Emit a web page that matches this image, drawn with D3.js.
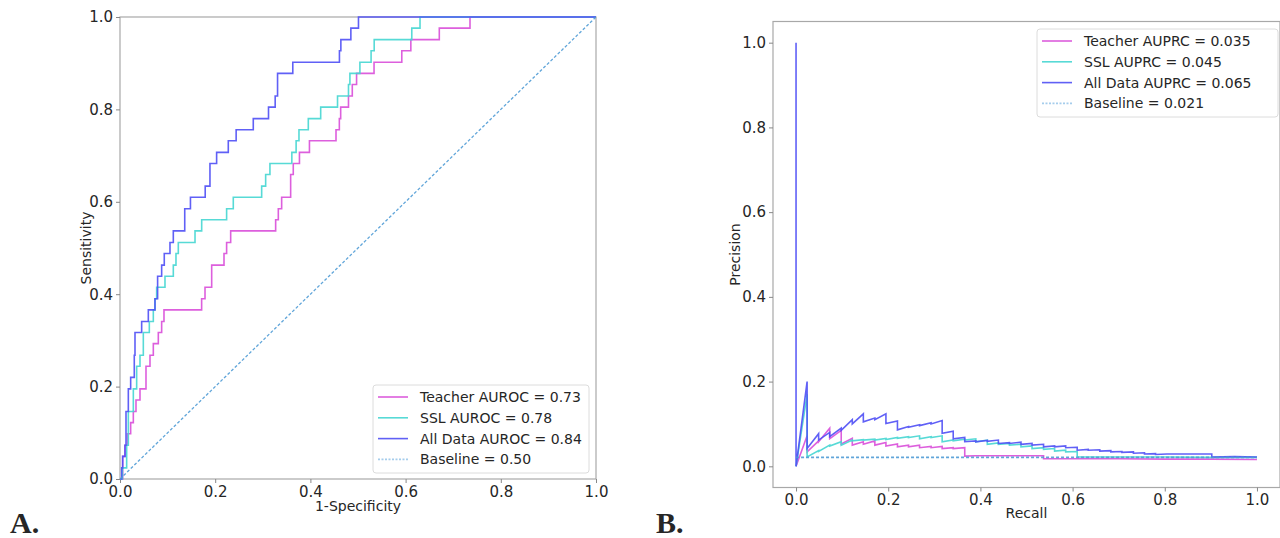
<!DOCTYPE html>
<html>
<head>
<meta charset="utf-8">
<script src="https://cdn.jsdelivr.net/npm/d3@7"></script>
<style>
  body { margin: 0; background: #fff; }
  svg text { font-family: "DejaVu Sans", sans-serif; fill: #262626; }
</style>
</head>
<body>
<svg id="fig" width="1280" height="538"></svg>
<script>
// ---- data ----
// ROC curves: [fpr, tpr] at each step (horizontal then vertical)
const rocTeacher = [[0,0],[0.0056,0.049],[0.0105,0.073],[0.0154,0.098],[0.0224,0.122],[0.028,0.146],[0.0336,0.171],[0.042,0.195],[0.0546,0.244],[0.063,0.268],[0.07,0.293],[0.0805,0.317],[0.0875,0.341],[0.0924,0.366],[0.1715,0.39],[0.1786,0.415],[0.1926,0.463],[0.2185,0.488],[0.224,0.512],[0.2325,0.537],[0.327,0.561],[0.3326,0.585],[0.3396,0.61],[0.3585,0.659],[0.364,0.683],[0.377,0.707],[0.398,0.732],[0.4538,0.756],[0.4608,0.78],[0.4636,0.805],[0.48,0.829],[0.488,0.854],[0.497,0.878],[0.5337,0.902],[0.592,0.927],[0.611,0.951],[0.6708,0.976],[0.7353,1.0],[1,1]];
const rocSSL = [[0,0],[0.005,0.024],[0.014,0.073],[0.0175,0.146],[0.028,0.195],[0.035,0.244],[0.042,0.268],[0.049,0.317],[0.0616,0.341],[0.07,0.366],[0.0735,0.39],[0.077,0.415],[0.0945,0.439],[0.112,0.463],[0.1176,0.488],[0.1225,0.512],[0.1576,0.537],[0.1716,0.561],[0.224,0.585],[0.238,0.61],[0.2976,0.634],[0.306,0.659],[0.315,0.683],[0.361,0.707],[0.37,0.732],[0.376,0.756],[0.3956,0.78],[0.4216,0.805],[0.457,0.829],[0.48,0.854],[0.483,0.878],[0.504,0.902],[0.5275,0.927],[0.534,0.951],[0.613,0.976],[0.6303,1.0],[1,1]];
const rocAll = [[0,0],[0.0035,0.024],[0.0056,0.049],[0.0105,0.073],[0.0126,0.146],[0.0175,0.195],[0.0224,0.22],[0.03,0.268],[0.0315,0.317],[0.0455,0.341],[0.0595,0.366],[0.0735,0.39],[0.079,0.439],[0.0875,0.463],[0.093,0.488],[0.105,0.512],[0.112,0.537],[0.136,0.585],[0.148,0.61],[0.179,0.634],[0.189,0.683],[0.203,0.707],[0.2275,0.732],[0.244,0.756],[0.28,0.78],[0.312,0.805],[0.326,0.829],[0.331,0.878],[0.363,0.902],[0.461,0.927],[0.464,0.951],[0.485,0.976],[0.501,1.0],[1,1]];
const rocBaseline = [[0,0],[1,1]];

// PR curves: [recall, precision] vertices
const prTeacher = [[0,0],[0.024,0.072],[0.024,0.034],[0.049,0.06],[0.049,0.058],[0.073,0.09],[0.073,0.065],[0.098,0.085],[0.098,0.053],[0.122,0.066],[0.122,0.05],[0.146,0.058],[0.146,0.052],[0.171,0.06],[0.171,0.05],[0.195,0.056],[0.195,0.048],[0.22,0.053],[0.22,0.046],[0.244,0.05],[0.244,0.046],[0.268,0.05],[0.268,0.044],[0.293,0.047],[0.293,0.044],[0.317,0.047],[0.317,0.042],[0.341,0.044],[0.341,0.042],[0.366,0.044],[0.366,0.024],[0.39,0.025],[0.439,0.025],[0.488,0.025],[0.537,0.025],[0.537,0.018],[0.6,0.018],[0.7,0.018],[0.8,0.017],[0.9,0.017],[1.0,0.016]];
const prSSL = [[0,0],[0.024,0.17],[0.024,0.022],[0.049,0.037],[0.049,0.035],[0.073,0.05],[0.073,0.048],[0.098,0.058],[0.098,0.05],[0.122,0.062],[0.122,0.06],[0.146,0.063],[0.146,0.062],[0.171,0.064],[0.171,0.062],[0.195,0.066],[0.195,0.063],[0.22,0.068],[0.22,0.066],[0.244,0.07],[0.244,0.068],[0.268,0.072],[0.268,0.065],[0.293,0.07],[0.293,0.068],[0.317,0.072],[0.317,0.058],[0.341,0.062],[0.341,0.06],[0.366,0.064],[0.366,0.062],[0.39,0.065],[0.39,0.058],[0.415,0.062],[0.415,0.052],[0.439,0.055],[0.439,0.052],[0.463,0.054],[0.463,0.05],[0.488,0.052],[0.488,0.046],[0.512,0.048],[0.512,0.042],[0.537,0.044],[0.537,0.04],[0.561,0.042],[0.561,0.036],[0.585,0.038],[0.585,0.034],[0.61,0.035],[0.61,0.022],[0.7,0.022],[0.8,0.022],[0.9,0.021],[1.0,0.021]];
const prAll = [[0,1],[0,0],[0.024,0.2],[0.024,0.042],[0.049,0.077],[0.049,0.062],[0.073,0.08],[0.073,0.07],[0.098,0.09],[0.098,0.085],[0.122,0.11],[0.122,0.1],[0.146,0.124],[0.146,0.105],[0.171,0.114],[0.171,0.11],[0.195,0.124],[0.195,0.101],[0.22,0.107],[0.22,0.086],[0.244,0.094],[0.244,0.092],[0.268,0.098],[0.268,0.096],[0.293,0.103],[0.293,0.1],[0.317,0.108],[0.317,0.078],[0.341,0.083],[0.341,0.065],[0.366,0.068],[0.366,0.058],[0.39,0.06],[0.39,0.058],[0.415,0.061],[0.415,0.059],[0.439,0.062],[0.439,0.054],[0.463,0.056],[0.463,0.054],[0.488,0.057],[0.488,0.052],[0.512,0.054],[0.512,0.05],[0.537,0.052],[0.537,0.046],[0.561,0.048],[0.561,0.046],[0.585,0.048],[0.585,0.044],[0.61,0.045],[0.61,0.038],[0.634,0.04],[0.634,0.038],[0.659,0.039],[0.659,0.036],[0.683,0.037],[0.683,0.034],[0.707,0.035],[0.707,0.033],[0.732,0.034],[0.732,0.031],[0.756,0.032],[0.756,0.029],[0.78,0.03],[0.78,0.028],[0.805,0.029],[0.854,0.029],[0.902,0.029],[0.902,0.022],[0.951,0.023],[1.0,0.022]];
const prBaseline = [[0,0.021],[1,0.021]];

const rocLabels = ['Teacher AUROC = 0.73', 'SSL AUROC = 0.78', 'All Data AUROC = 0.84', 'Baseline = 0.50'];
const prLabels = ['Teacher AUPRC = 0.035', 'SSL AUPRC = 0.045', 'All Data AUPRC = 0.065', 'Baseline = 0.021'];
const tickVals = [0, 0.2, 0.4, 0.6, 0.8, 1.0];

const colors = ['#d94ed9', '#45d6d2', '#4f4ff5', '#4f9bd5'];

const svg = d3.select('#fig');

// draws one panel: frame, ticks, curves and legend
function panel(x, y, series, curves, labels, legendPos, xTitle, yTitle) {
  const g = svg.append('g');
  const [x0, x1] = x.range();
  const [y0, y1] = y.range();

  g.append('rect').attr('x', x0).attr('y', y1).attr('width', x1 - x0).attr('height', y0 - y1)
    .attr('fill', 'none').attr('stroke', '#a8a8a8').attr('stroke-width', 1.2);

  const ax = g.append('g').attr('transform', `translate(0,${y0})`)
    .call(d3.axisBottom(x).tickValues(tickVals).tickFormat(d3.format('.1f')).tickSize(4).tickPadding(3));
  const ay = g.append('g').attr('transform', `translate(${x0},0)`)
    .call(d3.axisLeft(y).tickValues(tickVals).tickFormat(d3.format('.1f')).tickSize(4).tickPadding(3));
  [ax, ay].forEach(a => {
    a.select('.domain').remove();
    a.selectAll('line').attr('stroke', '#888');
    a.selectAll('text').attr('font-size', 15).attr('fill', '#262626');
  });

  series.forEach((d, i) => {
    const isBase = i === 3;
    g.append('path').datum(d)
      .attr('d', d3.line().x(p => x(p[0])).y(p => y(p[1])).curve(curves[i]))
      .attr('fill', 'none')
      .attr('stroke', colors[i])
      .attr('stroke-width', isBase ? legendPos.baseW : 1.6)
      .attr('stroke-dasharray', isBase ? '3,2' : null)
      .attr('opacity', 0.9);
  });

  g.append('text').attr('x', (x0 + x1) / 2).attr('y', legendPos.xTitleY)
    .attr('text-anchor', 'middle').attr('font-size', 14).text(xTitle);
  g.append('text').attr('transform', `translate(${legendPos.yTitleX},${(y0 + y1) / 2}) rotate(-90)`)
    .attr('text-anchor', 'middle').attr('font-size', 14).text(yTitle);

  // legend
  const lg = g.append('g').attr('transform', `translate(${legendPos.x},${legendPos.y})`);
  lg.append('rect').attr('width', legendPos.w).attr('height', 88).attr('rx', 3)
    .attr('fill', '#fff').attr('stroke', '#dcdcdc').attr('stroke-width', 1);
  labels.forEach((t, i) => {
    const ry = 12 + i * 20.8;
    lg.append('line').attr('x1', 5).attr('x2', 35).attr('y1', ry).attr('y2', ry)
      .attr('stroke', i === 3 ? '#9cc8ea' : colors[i]).attr('stroke-width', i === 3 ? 1.8 : 1.6)
      .attr('stroke-dasharray', i === 3 ? '2,1.5' : null).attr('opacity', 0.9);
    lg.append('text').attr('x', 47).attr('y', ry + 5).attr('font-size', 14).text(t);
  });
}

const xL = d3.scaleLinear().domain([0, 1]).range([120, 596]);
const yL = d3.scaleLinear().domain([0, 1]).range([479, 17]);
panel(xL, yL, [rocTeacher, rocSSL, rocAll, rocBaseline],
  [d3.curveStepAfter, d3.curveStepAfter, d3.curveStepAfter, d3.curveLinear],
  rocLabels, { x: 373, y: 385, w: 216, xTitleY: 511, yTitleX: 91, baseW: 1.3 }, '1-Specificity', 'Sensitivity');

const xR = d3.scaleLinear().domain([-0.05, 1.05]).range([773, 1280]);
const yR = d3.scaleLinear().domain([-0.05, 1.05]).range([487.5, 21.5]);
panel(xR, yR, [prTeacher, prSSL, prAll, prBaseline],
  [d3.curveLinear, d3.curveLinear, d3.curveLinear, d3.curveLinear],
  prLabels, { x: 1037, y: 29, w: 241, xTitleY: 518, yTitleX: 740, baseW: 1.8 }, 'Recall', 'Precision');

// panel letters
svg.append('text').attr('x', 10).attr('y', 533).attr('font-size', 30).attr('font-weight', 'bold')
  .style('font-family', '"Liberation Serif", serif').text('A.');
svg.append('text').attr('x', 656).attr('y', 533).attr('font-size', 30).attr('font-weight', 'bold')
  .style('font-family', '"Liberation Serif", serif').text('B.');
</script>
</body>
</html>
